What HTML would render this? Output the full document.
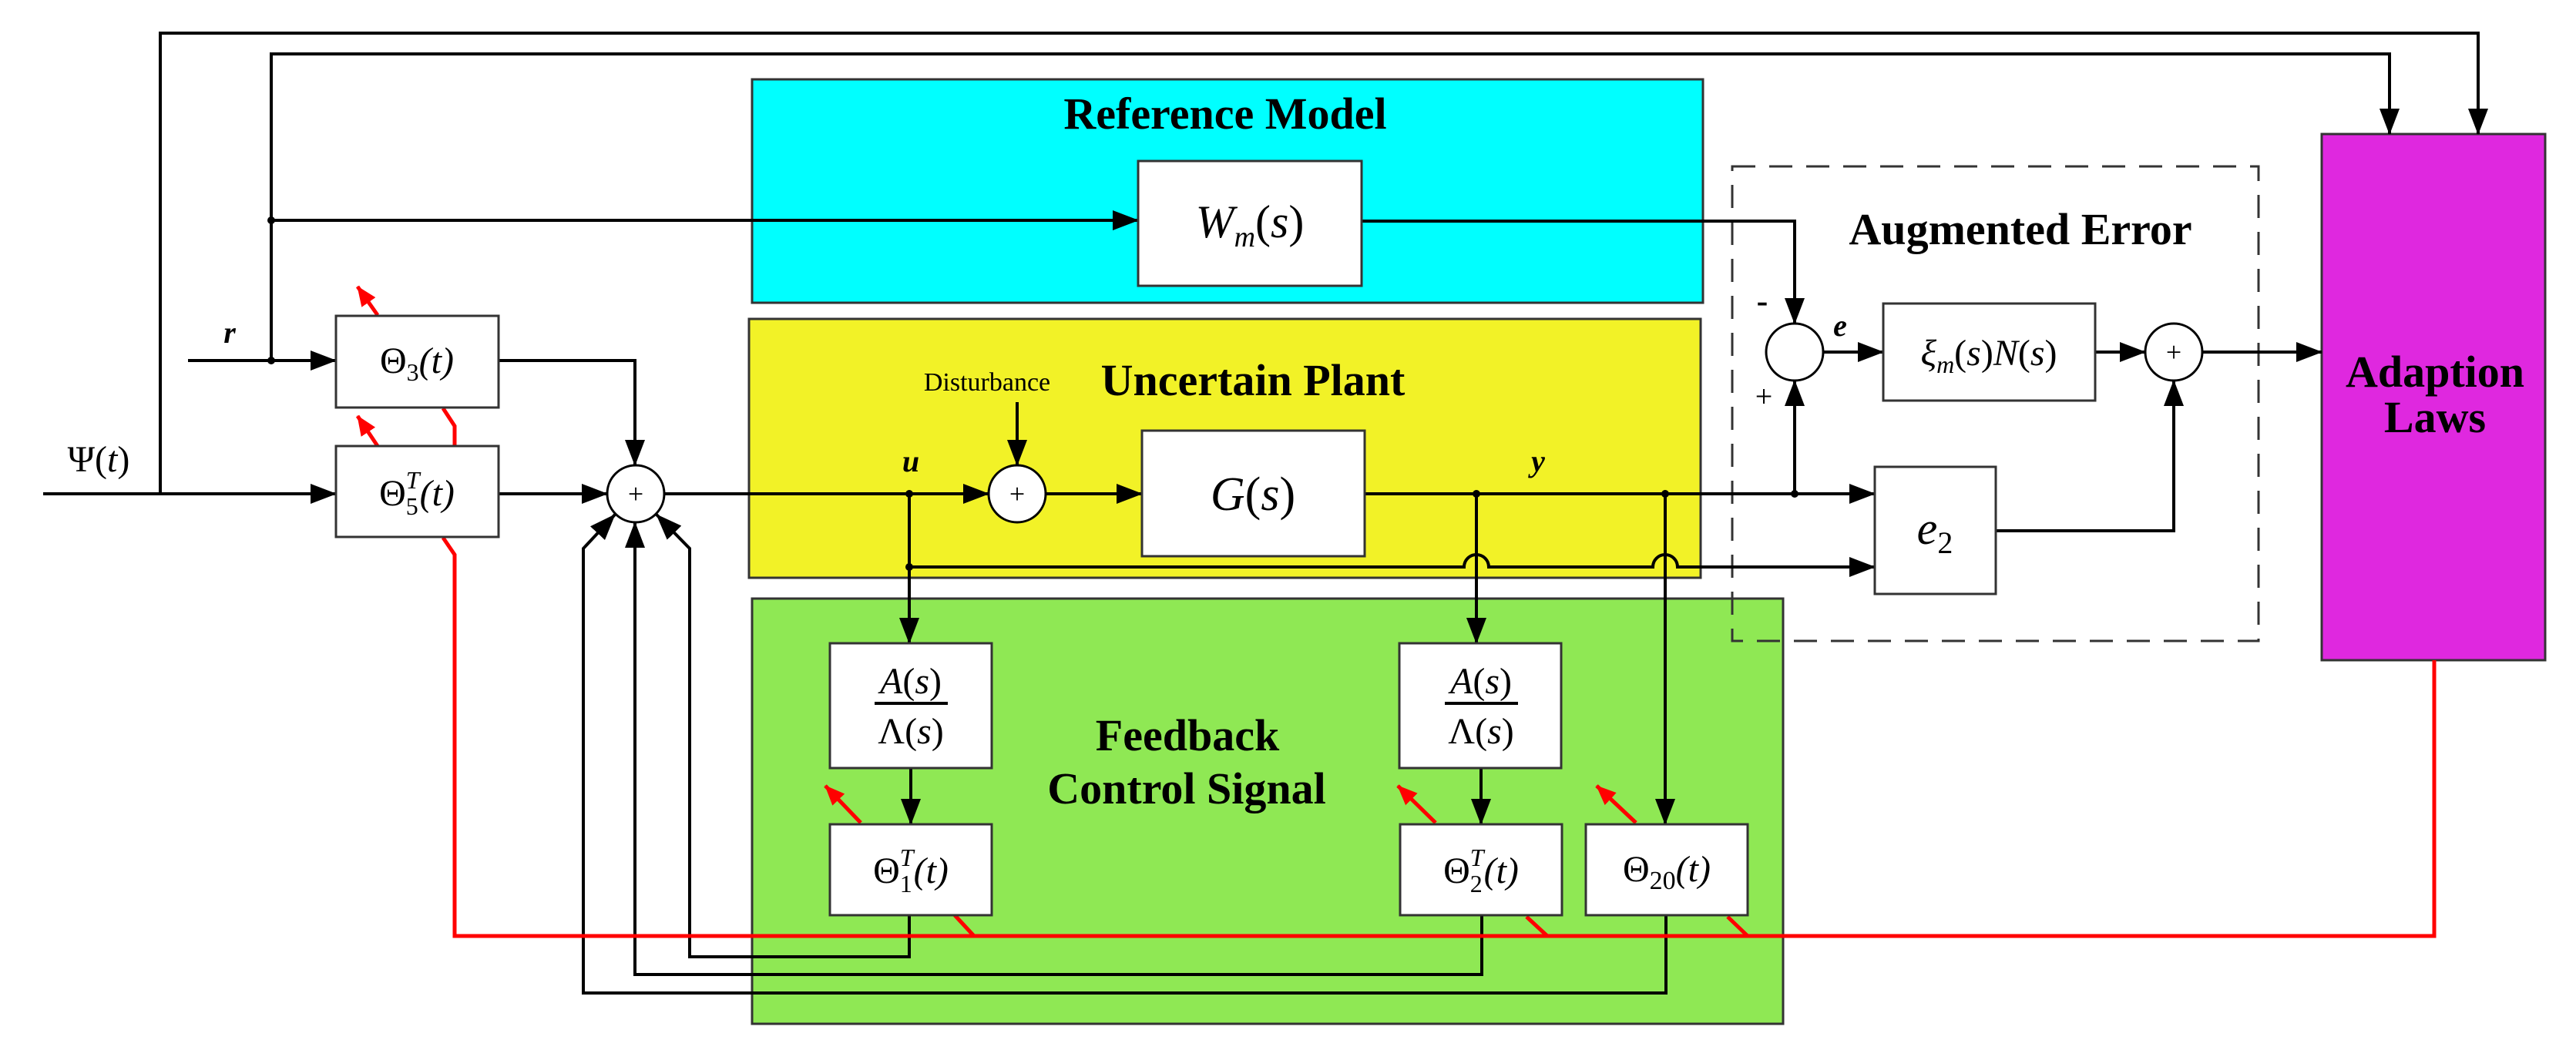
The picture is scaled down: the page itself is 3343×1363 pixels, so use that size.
<!DOCTYPE html>
<html><head><meta charset="utf-8"><style>
html,body{margin:0;padding:0;background:#fff;}
svg{display:block;}
text{font-family:"Liberation Serif","DejaVu Serif",serif;}
.t{font-weight:bold;font-size:58px;text-anchor:middle;}
</style></head><body>
<svg width="3343" height="1363" viewBox="0 0 3343 1363" xmlns="http://www.w3.org/2000/svg">
<defs>
<marker id="a" markerWidth="34" markerHeight="26" refX="33" refY="13" orient="auto" markerUnits="userSpaceOnUse"><path d="M0,0 L34,13 L0,26z" fill="#000"/></marker>
<marker id="r" markerWidth="26" markerHeight="22" refX="25" refY="11" orient="auto" markerUnits="userSpaceOnUse"><path d="M0,0 L26,11 L0,22z" fill="#f00"/></marker>
</defs>
<rect x="976" y="103" width="1234" height="290" fill="#00ffff" stroke="#333" stroke-width="3"/>
<rect x="972" y="414" width="1235" height="336" fill="#f2f227" stroke="#333" stroke-width="3"/>
<rect x="976" y="777" width="1338" height="552" fill="#8fe854" stroke="#333" stroke-width="3"/>
<rect x="2248" y="216" width="683" height="616" fill="none" stroke="#333" stroke-width="3" stroke-dasharray="30,18"/>
<rect x="3013" y="174" width="290" height="683" fill="#df28df" stroke="#333" stroke-width="3"/>

<text class="t" x="1590" y="167">Reference Model</text>
<text class="t" x="1626" y="513">Uncertain Plant</text>
<text class="t" x="1541" y="974">Feedback</text>
<text class="t" x="1540" y="1043">Control Signal</text>
<text class="t" x="2622" y="317">Augmented Error</text>
<text class="t" x="3160" y="502">Adaption</text>
<text class="t" x="3160" y="561">Laws</text>
<text x="1281" y="507" font-size="34" text-anchor="middle">Disturbance</text>

<g fill="none" stroke="#000" stroke-width="4">
<path d="M208,641 V43 H3216 V174" marker-end="url(#a)"/>
<path d="M352,468 V70 H3101 V174" marker-end="url(#a)"/>
<path d="M352,286 H1477" marker-end="url(#a)"/>
<path d="M244,468 H436" marker-end="url(#a)"/>
<path d="M56,641 H436" marker-end="url(#a)"/>
<path d="M647,468 H824 V604" marker-end="url(#a)"/>
<path d="M647,641 H788" marker-end="url(#a)"/>
<path d="M862,641 H1283" marker-end="url(#a)"/>
<path d="M1320,522 V604" marker-end="url(#a)"/>
<path d="M1357,641 H1482" marker-end="url(#a)"/>
<path d="M1180,641 V835" marker-end="url(#a)"/>
<path d="M1180,736 H1900 A16,16 0 0 1 1932,736 H2145 A16,16 0 0 1 2177,736 H2433" marker-end="url(#a)"/>
<path d="M1771,641 H2433" marker-end="url(#a)"/>
<path d="M1916,641 V835" marker-end="url(#a)"/>
<path d="M2161,641 V1070" marker-end="url(#a)"/>
<path d="M2329,641 V494" marker-end="url(#a)"/>
<path d="M1767,287 H2329 V420" marker-end="url(#a)"/>
<path d="M2366,457 H2444" marker-end="url(#a)"/>
<path d="M2719,457 H2784" marker-end="url(#a)"/>
<path d="M2858,457 H3013" marker-end="url(#a)"/>
<path d="M2590,689 H2821 V494" marker-end="url(#a)"/>
<path d="M1182,997 V1070" marker-end="url(#a)"/>
<path d="M1922,997 V1070" marker-end="url(#a)"/>
<path d="M1180,1188 V1242 H895 V712 L852,668" marker-end="url(#a)"/>
<path d="M1923,1188 V1265 H824 V678" marker-end="url(#a)"/>
<path d="M2162,1188 V1289 H757 V712 L798,668" marker-end="url(#a)"/>
</g>
<g fill="none" stroke="#f00" stroke-width="5">
<path d="M3159,857 V1215 H590 V720 L575,698"/>
<path d="M590,579 V553 L575,530"/>
<path d="M1239,1188 L1264,1215"/>
<path d="M1981,1190 L2008,1215"/>
<path d="M2242,1190 L2268,1215"/>
<path d="M490,409 L464,372" marker-end="url(#r)"/>
<path d="M490,579 L464,540" marker-end="url(#r)"/>
<path d="M1117,1068 L1071,1020" marker-end="url(#r)"/>
<path d="M1863,1068 L1814,1020" marker-end="url(#r)"/>
<path d="M2123,1068 L2072,1020" marker-end="url(#r)"/>
</g>
<g fill="#000">
<circle cx="352" cy="468" r="5"/><circle cx="352" cy="286" r="5"/>
<circle cx="1180" cy="641" r="5"/><circle cx="1180" cy="736" r="5"/>
<circle cx="1916" cy="641" r="5"/><circle cx="2161" cy="641" r="5"/><circle cx="2329" cy="641" r="5"/>
</g>
<g fill="#fff" stroke="#333" stroke-width="3">
<rect x="436" y="410" width="211" height="119"/>
<rect x="436" y="579" width="211" height="118"/>
<rect x="1477" y="209" width="290" height="162"/>
<rect x="1482" y="559" width="289" height="163"/>
<rect x="1077" y="835" width="210" height="162"/>
<rect x="1077" y="1070" width="210" height="118"/>
<rect x="1816" y="835" width="210" height="162"/>
<rect x="1817" y="1070" width="210" height="118"/>
<rect x="2058" y="1070" width="210" height="118"/>
<rect x="2444" y="394" width="275" height="126"/>
<rect x="2433" y="606" width="157" height="165"/>
</g>
<g fill="#fff" stroke="#000" stroke-width="3">
<circle cx="825" cy="641" r="37"/>
<circle cx="1320" cy="641" r="37"/>
<circle cx="2329" cy="457" r="37"/>
<circle cx="2821" cy="457" r="37"/>
</g>
<g font-size="36" text-anchor="middle">
<text x="825" y="653">+</text><text x="1320" y="653">+</text><text x="2821" y="469">+</text>
</g>
<text x="2287" y="405" font-size="44" font-weight="bold" text-anchor="middle">-</text>
<text x="2289" y="528" font-size="40" text-anchor="middle">+</text>
<text x="128" y="612" font-size="48" text-anchor="middle">Ψ(<tspan font-style="italic">t</tspan>)</text>
<text x="298" y="445" font-size="40" font-weight="bold" font-style="italic" text-anchor="middle">r</text>
<text x="1182" y="612" font-size="40" font-weight="bold" font-style="italic" text-anchor="middle">u</text>
<text x="1996" y="612" font-size="40" font-weight="bold" font-style="italic" text-anchor="middle">y</text>
<text x="2388" y="436" font-size="40" font-weight="bold" font-style="italic" text-anchor="middle">e</text>
<text x="541" y="484" font-size="48" text-anchor="middle">Θ<tspan font-size="32" dy="10">3</tspan><tspan dy="-10" font-style="italic">(t)</tspan></text>
<text x="541" y="656" font-size="48" text-anchor="middle">Θ<tspan font-size="32" dy="12">5</tspan><tspan font-size="32" font-style="italic" dx="-16" dy="-34">T</tspan><tspan dy="22" font-style="italic">(t)</tspan></text>
<text x="1182" y="1146" font-size="48" text-anchor="middle">Θ<tspan font-size="32" dy="12">1</tspan><tspan font-size="32" font-style="italic" dx="-16" dy="-34">T</tspan><tspan dy="22" font-style="italic">(t)</tspan></text>
<text x="1922" y="1146" font-size="48" text-anchor="middle">Θ<tspan font-size="32" dy="12">2</tspan><tspan font-size="32" font-style="italic" dx="-16" dy="-34">T</tspan><tspan dy="22" font-style="italic">(t)</tspan></text>
<text x="2163" y="1144" font-size="48" text-anchor="middle">Θ<tspan font-size="34" dy="10">20</tspan><tspan dy="-10" font-style="italic">(t)</tspan></text>
<text x="1622" y="308" font-size="60" text-anchor="middle"><tspan font-style="italic">W</tspan><tspan font-size="38" font-style="italic" dy="12">m</tspan><tspan dy="-12">(</tspan><tspan font-style="italic">s</tspan>)</text>
<text x="1626" y="662" font-size="62" text-anchor="middle"><tspan font-style="italic">G</tspan>(<tspan font-style="italic">s</tspan>)</text>
<text x="2581" y="474" font-size="48" text-anchor="middle"><tspan font-style="italic">ξ</tspan><tspan font-size="32" font-style="italic" dy="10">m</tspan><tspan dy="-10">(</tspan><tspan font-style="italic">s</tspan>)<tspan font-style="italic">N</tspan>(<tspan font-style="italic">s</tspan>)</text>
<text x="2511" y="706" font-size="60" text-anchor="middle"><tspan font-style="italic">e</tspan><tspan font-size="40" dy="12">2</tspan></text>
<g font-size="48" text-anchor="middle">
<text x="1182" y="900"><tspan font-style="italic">A</tspan>(<tspan font-style="italic">s</tspan>)</text>
<text x="1182" y="965">Λ(<tspan font-style="italic">s</tspan>)</text>
<text x="1922" y="900"><tspan font-style="italic">A</tspan>(<tspan font-style="italic">s</tspan>)</text>
<text x="1922" y="965">Λ(<tspan font-style="italic">s</tspan>)</text>
</g>
<line x1="1135" y1="913" x2="1230" y2="913" stroke="#000" stroke-width="4"/>
<line x1="1875" y1="913" x2="1970" y2="913" stroke="#000" stroke-width="4"/>
</svg>
</body></html>
